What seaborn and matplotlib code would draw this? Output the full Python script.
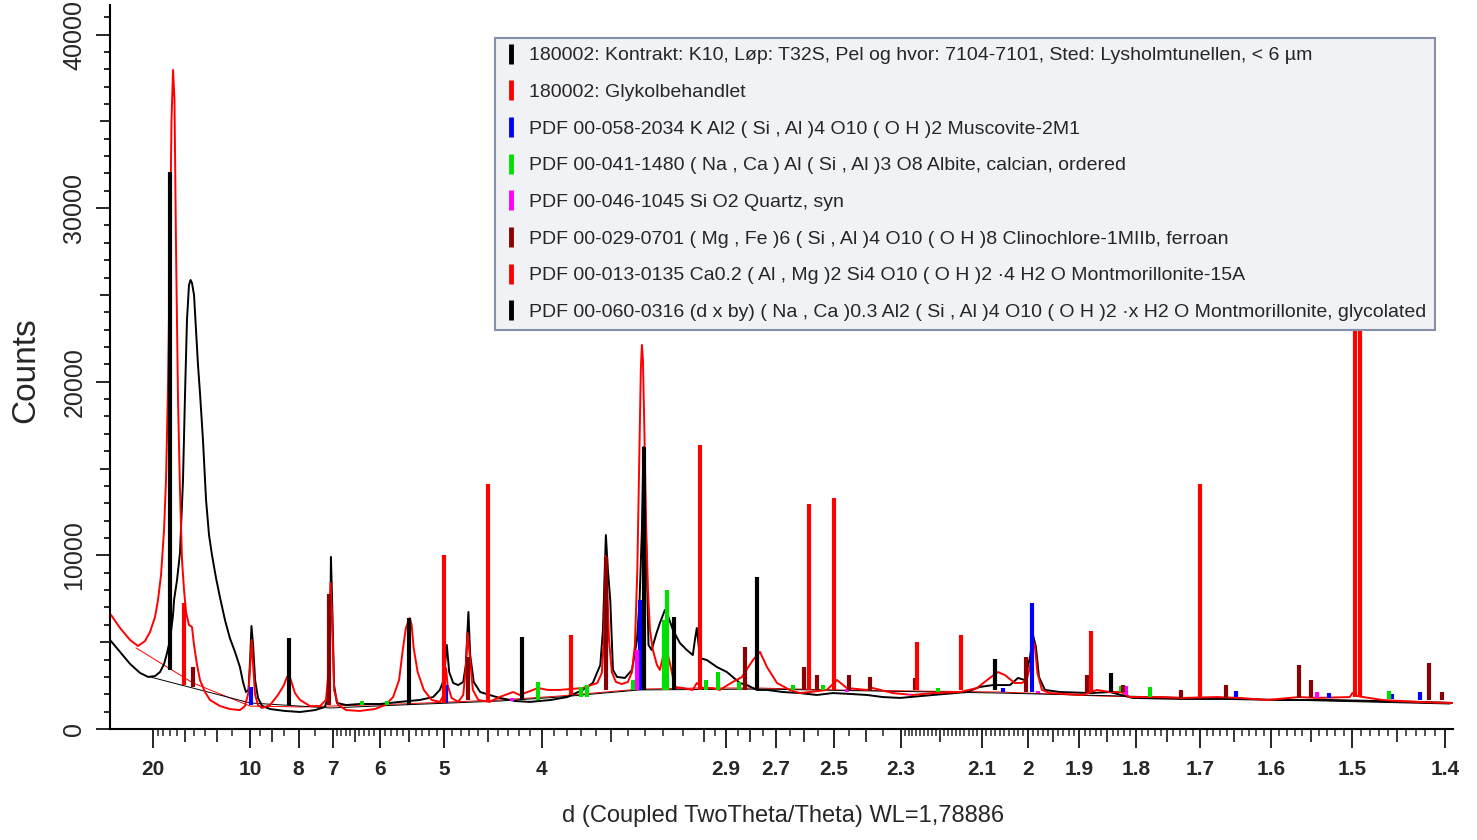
import numpy as np
import matplotlib
matplotlib.use("Agg")
import matplotlib.pyplot as plt
import seaborn as sns
from matplotlib.lines import Line2D
from matplotlib.ticker import FixedLocator, FixedFormatter, NullFormatter

# ---------------------------------------------------------------- scans
# d-spacing (Angstrom) and counts of the untreated sample (black)
black_d = [35.58, 30.08, 26.05, 22.98, 20.99, 19.52, 18.59, 17.90, 17.42, 16.97,
           16.53, 16.39, 15.99, 15.61, 15.24, 15.00, 14.78, 14.56, 14.39, 14.24,
           14.03, 13.83, 13.64, 13.45, 13.18, 12.91, 12.66, 12.42, 12.11, 11.81,
           11.47, 11.15, 10.83, 10.54, 10.37, 10.21, 10.07, 9.99, 9.92, 9.84,
           9.74, 9.60, 9.41, 9.06, 8.48, 7.95, 7.49, 7.22, 7.14, 7.08,
           7.06, 7.03, 6.98, 6.91, 6.69, 6.39, 5.99, 5.65, 5.34, 5.15,
           5.06, 5.01, 4.97, 4.94, 4.89, 4.83, 4.77, 4.74, 4.71, 4.69,
           4.65, 4.58, 4.48, 4.38, 4.23, 4.10, 3.93, 3.80, 3.69, 3.62,
           3.57, 3.553, 3.534, 3.521, 3.506, 3.489, 3.464, 3.416, 3.374, 3.345,
           3.33, 3.317, 3.308, 3.30, 3.29, 3.28, 3.263, 3.236, 3.218, 3.192,
           3.181, 3.150, 3.115, 3.081, 3.052, 3.042, 3.033, 3.018, 2.986, 2.941,
           2.897, 2.872, 2.842, 2.813, 2.773, 2.734, 2.674, 2.613, 2.555, 2.502,
           2.449, 2.397, 2.351, 2.303, 2.217, 2.134, 2.105, 2.075, 2.038, 2.021,
           2.007, 1.996, 1.990, 1.984, 1.978, 1.966, 1.937, 1.879, 1.845, 1.806,
           1.726, 1.657, 1.589, 1.527, 1.469, 1.426, 1.393]
black_counts = [5130, 4440, 3750, 3230, 3000, 3050, 3280, 3740, 4380, 5130,
                6570, 7430, 8580, 10140, 14340, 19350, 23560, 25570, 25860, 25690,
                25000, 22980, 20970, 19350, 16650, 13190, 11170, 10020, 8700, 7550,
                6280, 5240, 4440, 3570, 2710, 2130, 2250, 3970, 5930, 4840,
                2820, 1790, 1330, 1150, 1040, 980, 1090, 1270, 1790, 5130,
                9910, 7430, 2530, 1500, 1380, 1440, 1440, 1560, 1670, 1840,
                2250, 2820, 4840, 3280, 2650, 2530, 2710, 3690, 6740, 4260,
                2710, 2130, 1960, 1790, 1610, 1560, 1670, 1840, 2250, 2650,
                3690, 5700, 11170, 9160, 7430, 3400, 3000, 2940, 3400, 5130,
                7430, 11460, 16240, 13190, 9560, 4840, 4550, 5530, 6110, 6850,
                6680, 5700, 4950, 4550, 4260, 5130, 5820, 4090, 3970, 3570,
                3280, 3000, 2650, 2530, 2250, 2250, 2130, 2070, 1960, 2070,
                2020, 1960, 1840, 1790, 1960, 2130, 2420, 2530, 2530, 2940,
                2820, 4150, 5410, 4720, 3000, 2250, 2130, 2070, 2130, 1790,
                1730, 1730, 1670, 1670, 1610, 1560, 1500]

# glycol-treated sample (red)
red_d = [34.94, 30.08, 26.05, 23.53, 21.69, 20.55, 19.52, 18.95, 18.41, 17.90,
         17.58, 17.28, 16.97, 16.75, 16.53, 16.33, 16.12, 15.86, 15.61, 15.36,
         15.12, 14.89, 14.56, 14.24, 14.03, 13.73, 13.45, 13.00, 12.58, 11.81,
         11.15, 10.54, 10.26, 10.07, 9.97, 9.91, 9.84, 9.74, 9.60, 9.41,
         9.06, 8.74, 8.51, 8.40, 8.33, 8.26, 8.12, 7.95, 7.64, 7.35,
         7.19, 7.14, 7.10, 7.07, 7.03, 6.98, 6.88, 6.69, 6.39, 6.09,
         5.90, 5.76, 5.66, 5.60, 5.55, 5.49, 5.46, 5.43, 5.37, 5.28,
         5.17, 5.06, 5.01, 4.98, 4.96, 4.91, 4.83, 4.77, 4.74, 4.72,
         4.69, 4.66, 4.60, 4.48, 4.38, 4.25, 4.19, 4.03, 3.95, 3.86,
         3.69, 3.59, 3.56, 3.547, 3.537, 3.527, 3.514, 3.496, 3.471, 3.434,
         3.398, 3.374, 3.357, 3.343, 3.331, 3.323, 3.317, 3.311, 3.303, 3.294,
         3.283, 3.272, 3.256, 3.234, 3.218, 3.200, 3.184, 3.166, 3.140, 3.100,
         3.052, 3.033, 3.005, 2.963, 2.928, 2.872, 2.834, 2.789, 2.761, 2.734,
         2.696, 2.649, 2.613, 2.578, 2.522, 2.489, 2.458, 2.397, 2.380, 2.323,
         2.269, 2.217, 2.151, 2.111, 2.082, 2.064, 2.049, 2.028, 2.013, 2.003,
         1.993, 1.989, 1.986, 1.981, 1.972, 1.956, 1.894, 1.868, 1.845, 1.825,
         1.811, 1.766, 1.726, 1.675, 1.643, 1.606, 1.564, 1.542, 1.503, 1.500,
         1.495, 1.466, 1.429, 1.393]
red_counts = [6570, 5820, 5130, 4780, 5070, 5590, 6450, 7430, 8870, 11460,
              14340, 19530, 27590, 35080, 37960, 36230, 27590, 18950, 13770, 9730,
              8010, 6740, 5990, 5880, 4840, 3690, 2820, 2130, 1670, 1320,
              1150, 1090, 1320, 2130, 3970, 5130, 3690, 1960, 1380, 1210,
              1380, 1960, 2530, 3000, 3110, 2820, 2070, 1670, 1320, 1320,
              1670, 2820, 6280, 8410, 6570, 2250, 1380, 1090, 1040, 1150,
              1380, 1840, 2820, 4550, 5820, 6390, 5990, 4670, 3280, 2250,
              1670, 1560, 1960, 3510, 2530, 1790, 1560, 1960, 3510, 5530,
              3970, 2250, 1670, 1560, 1840, 2130, 1960, 2360, 2250, 2250,
              2360, 2650, 3230, 5130, 9960, 8580, 5130, 3280, 2710, 2590,
              2710, 3280, 4840, 9160, 16070, 20680, 22120, 21250, 17220, 12040,
              8010, 5700, 4550, 3690, 3400, 4260, 4670, 3800, 2420, 2360,
              2250, 2650, 2360, 2360, 2250, 2710, 2990, 3970, 4440, 3570,
              2650, 2250, 2070, 2130, 2250, 2820, 2360, 2250, 2360, 2070,
              1960, 2070, 2130, 2360, 2940, 3280, 3110, 2650, 2650, 2820,
              3970, 5010, 4720, 3230, 2250, 2070, 1960, 2250, 2130, 2130,
              1840, 1840, 1790, 1840, 1790, 1670, 1840, 1790, 1840, 2070,
              1900, 1670, 1560, 1500]

# fitted backgrounds
black_bg_d = [20.55, 9.99, 7.08, 5.65, 4.38, 3.86, 3.33, 2.76, 2.06, 1.395]
black_bg_counts = [3000, 1500, 1210, 1380, 1610, 1840, 2250, 2300, 2070, 1440]
red_bg_d = [24.11, 14.13, 9.99, 7.95, 5.65, 4.38, 3.86, 3.33, 3.02, 2.76, 2.51,
            2.06, 1.956, 1.863, 1.395]
red_bg_counts = [4670, 2650, 1320, 1270, 1440, 1670, 1900, 2300, 2360, 2360, 2250,
                 2130, 2020, 1900, 1500]

# ------------------------------------------------------ reference patterns
muscovite_d = [9.94, 4.98, 3.33, 2.053, 1.992, 1.648, 1.527, 1.456, 1.426]
muscovite_top = [2420, 2530, 7430, 2360, 7260, 2190, 2070, 2020, 2130]
muscovite_base = [1380, 1500, 2250, 2130, 2130, 1840, 1790, 1730, 1670]

albite_d = [6.35, 5.87, 4.031, 3.702, 3.66, 3.369, 3.197, 3.181, 2.991, 2.937,
            2.846, 2.638, 2.535, 2.205, 1.825, 1.778, 1.459]
albite_top = [1610, 1610, 2710, 2420, 2530, 2820, 6280, 8010, 2820, 3280,
              2710, 2530, 2530, 2360, 2480, 2420, 2190]
albite_base = [1380, 1380, 1670, 1840, 1840, 2250, 2250, 2250, 2250, 2250,
               2250, 2250, 2250, 2130, 2130, 1840, 1730]

quartz_d = [4.26, 3.345, 2.458, 2.28, 1.979, 1.817, 1.542]
quartz_top = [1790, 4550, 2300, 2020, 2190, 2480, 2130]
quartz_base = [1610, 2250, 2130, 1960, 2070, 1960, 1790]

clinochlore_d = [14.13, 7.11, 4.715, 3.534, 2.822, 2.597, 2.556, 2.451, 2.387,
                 2.263, 2.005, 1.886, 1.823, 1.728, 1.662, 1.564, 1.549, 1.416, 1.403]
clinochlore_top = [3570, 7780, 4150, 9910, 4720, 3570, 3110, 3110, 3000,
                   2940, 4150, 3110, 2530, 2250, 2530, 3690, 2820, 3800, 2130]
clinochlore_base = [2420, 1380, 1670, 2250, 2250, 2250, 2250, 2250, 2250,
                    2250, 2130, 2130, 2130, 1790, 1790, 1790, 1790, 1670, 1670]

mont15_d = [15.12, 5.006, 4.497, 3.774, 3.019, 2.582, 2.499, 2.258, 2.149,
            1.879, 1.699, 1.497, 1.491]
mont15_top = [7260, 10020, 14110, 5410, 16360, 12960, 13310, 5010, 5410,
              5640, 14110, 30000, 30000]
mont15_base = [2530, 1500, 1670, 1960, 2250, 2250, 2250, 2250, 2250,
               2130, 1840, 1840, 1840]

montgly_d = [16.97, 8.33, 5.502, 4.170, 3.306, 3.145, 2.773, 2.071, 1.843]
montgly_top = [32080, 5240, 6390, 5300, 16240, 6450, 8760, 4030, 3230]
montgly_base = [3400, 1380, 1380, 1670, 2250, 2250, 2250, 2250, 2130]

legend_labels = [
    "180002: Kontrakt: K10, Løp: T32S, Pel og hvor: 7104-7101, Sted: Lysholmtunellen, < 6 µm",
    "180002: Glykolbehandlet",
    "PDF 00-058-2034 K Al2 ( Si , Al )4 O10 ( O H )2 Muscovite-2M1",
    "PDF 00-041-1480 ( Na , Ca ) Al ( Si , Al )3 O8 Albite, calcian, ordered",
    "PDF 00-046-1045 Si O2 Quartz, syn",
    "PDF 00-029-0701 ( Mg , Fe )6 ( Si , Al )4 O10 ( O H )8 Clinochlore-1MIIb, ferroan",
    "PDF 00-013-0135 Ca0.2 ( Al , Mg )2 Si4 O10 ( O H )2 ·4 H2 O Montmorillonite-15A",
    "PDF 00-060-0316 (d x by) ( Na , Ca )0.3 Al2 ( Si , Al )4 O10 ( O H )2 ·x H2 O Montmorillonite, glycolated",
]
legend_colors = ["#000000", "#ff0000", "#0000ff", "#00e000", "#ff00ff",
                 "#8b0000", "#ff0000", "#000000"]

major_d = [20, 10, 8, 7, 6, 5, 4, 2.9, 2.7, 2.5, 2.3, 2.1, 2, 1.9, 1.8, 1.7, 1.6, 1.5, 1.4]
major_labels = ["20", "10", "8", "7", "6", "5", "4", "2.9", "2.7", "2.5", "2.3",
                "2.1", "2", "1.9", "1.8", "1.7", "1.6", "1.5", "1.4"]
medium_d = [15, 12, 9, 6.5, 5.5, 4.5, 3.5, 3.0, 2.8, 2.6, 2.4, 2.2,
            1.95, 1.85, 1.75, 1.65, 1.55, 1.45]

# ------------------------------------------------------------------ style
sns.set_theme(style="white")
plt.rcParams["font.family"] = ["Liberation Sans", "DejaVu Sans"]

assert len(black_d) == len(black_counts)
assert len(red_d) == len(red_counts)


def inv(v):
    v = np.asarray(v, dtype=float)
    with np.errstate(divide="ignore", invalid="ignore"):
        return 1.0 / v


XLIM = (1.392, 35.6)

fig = plt.figure(figsize=(14.77, 8.40), dpi=100)
ax = fig.add_axes([110 / 1477, 111 / 840, 1343 / 1477, 724 / 840])

# backgrounds
sns.lineplot(x=red_bg_d, y=red_bg_counts, color="#ff0000", lw=0.7,
             estimator=None, ax=ax, zorder=1)
sns.lineplot(x=black_bg_d, y=black_bg_counts, color="#000000", lw=0.7,
             estimator=None, ax=ax, zorder=1)

# measured patterns
sns.lineplot(x=black_d, y=black_counts, color="#000000", lw=1.4,
             estimator=None, ax=ax, zorder=2)
sns.lineplot(x=red_d, y=red_counts, color="#ff0000", lw=1.4,
             estimator=None, ax=ax, zorder=2.5)

# stick patterns of the identified phases
sticks = [
    (muscovite_d, muscovite_base, muscovite_top, "#0000ff"),
    (albite_d, albite_base, albite_top, "#00e000"),
    (quartz_d, quartz_base, quartz_top, "#ff00ff"),
    (clinochlore_d, clinochlore_base, clinochlore_top, "#8b0000"),
    (mont15_d, mont15_base, mont15_top, "#ff0000"),
    (montgly_d, montgly_base, montgly_top, "#000000"),
]
for d, base, top, col in sticks:
    ax.vlines(d, base, top, colors=col, lw=3.0, zorder=3)

ax.set_xscale("function", functions=(inv, inv))
ax.set_xlim(*XLIM)
ax.set_ylim(0, 41700)

for side in ("top", "right"):
    ax.spines[side].set_visible(False)
for side in ("left", "bottom"):
    ax.spines[side].set_color("black")
    ax.spines[side].set_linewidth(1.5)

# x ticks
ax.xaxis.set_major_locator(FixedLocator(major_d))
ax.xaxis.set_major_formatter(FixedFormatter(major_labels))
minor_d = []
minor_d += list(range(11, 20))
minor_d += [9.5, 8.5, 7.5]
minor_d += list(np.round(np.arange(6.1, 7.0, 0.1), 2))
minor_d += list(np.round(np.arange(5.1, 6.0, 0.1), 2))
minor_d += list(np.round(np.arange(4.1, 5.0, 0.1), 2))
minor_d += list(np.round(np.arange(3.1, 4.0, 0.1), 2))
minor_d += list(np.round(np.arange(2.35, 3.0, 0.1), 2))
minor_d += list(np.round(np.arange(1.40, 2.30, 0.01), 2))
skip = set(np.round(major_d, 2)) | set(np.round(medium_d, 2))
minor_d = [m for m in minor_d if round(float(m), 2) not in skip]
ax.xaxis.set_minor_locator(FixedLocator(minor_d))
ax.xaxis.set_minor_formatter(NullFormatter())
ax.tick_params(axis="x", which="major", direction="out", length=14, width=1.4,
               labelsize=15, pad=8, bottom=True)
ax.tick_params(axis="x", which="minor", direction="out", length=5, width=1.1, bottom=True)
for lab in ax.get_xticklabels():
    lab.set_fontweight("bold")

# y ticks
ax.yaxis.set_major_locator(FixedLocator([0, 10000, 20000, 30000, 40000]))
ax.yaxis.set_minor_locator(FixedLocator([v for v in range(1000, 42000, 1000) if v % 5000]))
ax.yaxis.set_minor_formatter(NullFormatter())
ax.tick_params(axis="y", which="major", direction="out", length=10, width=1.4,
               labelsize=18, pad=7, left=True)
ax.tick_params(axis="y", which="minor", direction="out", length=4, width=1.4, left=True)
for lab in ax.get_yticklabels():
    lab.set_rotation(90)
    lab.set_va("center")

# medium-length ticks on twin axes
axm = ax.twiny()
axm.set_xscale("function", functions=(inv, inv))
axm.set_xlim(*XLIM)
axm.xaxis.set_ticks_position("bottom")
axm.xaxis.set_major_locator(FixedLocator(medium_d))
axm.xaxis.set_major_formatter(NullFormatter())
axm.tick_params(axis="x", which="major", direction="out", length=9, width=1.3, bottom=True, top=False)
axm.xaxis.set_minor_locator(FixedLocator([]))
for s in axm.spines.values():
    s.set_visible(False)
axm.patch.set_visible(False)

aym = ax.twinx()
aym.set_ylim(ax.get_ylim())
aym.yaxis.set_ticks_position("left")
aym.yaxis.set_major_locator(FixedLocator([5000, 15000, 25000, 35000]))
aym.yaxis.set_major_formatter(NullFormatter())
aym.tick_params(axis="y", which="major", direction="out", length=7, width=1.4, left=True, right=False)
for s in aym.spines.values():
    s.set_visible(False)
aym.patch.set_visible(False)

ax.set_xlabel("")
ax.set_ylabel("")
fig.text(26 / 1477, 1 - 370 / 840, "Counts", rotation=90, ha="center", va="center",
         fontsize=24)
fig.text(783 / 1477, 1 - 816 / 840, "d (Coupled TwoTheta/Theta) WL=1,78886",
         ha="center", va="center", fontsize=17)

handles = [Line2D([], [], color=c, marker="|", markersize=14, markeredgewidth=3.5,
                  linestyle="None") for c in legend_colors]
leg = ax.legend(handles, legend_labels, loc="upper right",
                bbox_to_anchor=(0.9866, 0.9544), fontsize=14, frameon=True,
                fancybox=False, framealpha=1, facecolor="#f1f2f6",
                edgecolor="#8392aa", borderpad=0.45, labelspacing=0.98,
                handlelength=0.7, handletextpad=0.6, borderaxespad=0)
leg.get_frame().set_linewidth(1.5)
leg.set_zorder(10)

fig.savefig("out.png", dpi=100)
